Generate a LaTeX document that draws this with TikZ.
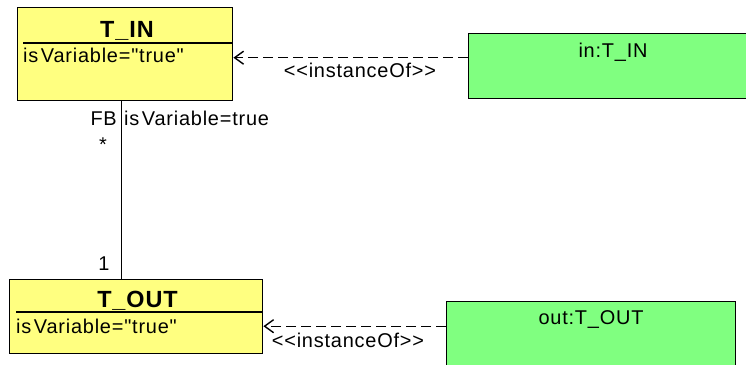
\documentclass[tikz,border=0pt]{standalone}
\usepackage{fontspec}
\setmainfont{Liberation Sans}[LetterSpace=4,Ligatures=TeXOff]
\usetikzlibrary{arrows.meta}
\definecolor{clsyellow}{RGB}{255,255,128}
\definecolor{objgreen}{RGB}{128,255,128}
\newcommand{\isgap}{is\kern2.5bp Variable}
\begin{document}
\begin{tikzpicture}[x=1bp,y=-1bp,
  box/.style={draw=black, line width=1.4bp, inner sep=0pt, anchor=north west},
  clsbox/.style={box, fill=clsyellow},
  objbox/.style={box, fill=objgreen},
  title/.style={inner sep=0pt, anchor=base, font=\fontsize{23.5}{26}\selectfont\bfseries},
  txt/.style={inner sep=0pt, font=\fontsize{20}{22}\selectfont},
  dep/.style={line width=1.4bp, dash pattern=on 10bp off 5bp, -{Straight Barb[length=9bp,width=13bp,line width=1.4bp]}},
  sep/.style={line width=1.4bp}
]
\useasboundingbox (0,0) rectangle (746,364);
\clip (0,0) rectangle (746,364);
% class boxes
\node[clsbox, minimum width=215bp, minimum height=93bp] (tin) at (17,7) {};
\node[clsbox, minimum width=253bp, minimum height=74bp] (tout) at (9,279) {};
% object boxes
\node[objbox, minimum width=300bp, minimum height=65bp] (inst1) at (468,33) {};
\node[objbox, minimum width=289bp, minimum height=80bp] (inst2) at (446,301) {};
% titles
\node[title] (tintitle) at (127,37) {T\_IN};
\node[title] (touttitle) at (137.5,307) {T\_OUT};
\draw[sep] ([xshift=6bp]tin.west |- 0,43) coordinate (s1) -- (tin.east |- s1);
\draw[sep] ([xshift=7bp]tout.west |- 0,312) coordinate (s2) -- (tout.east |- s2);
\node[txt, anchor=base west] (tinattr) at (23,62) {\isgap="true"};
\node[txt, anchor=base west] (toutattr) at (16,333) {\isgap="true"};
\node[txt, anchor=base] (inlbl) at (613,57) {in:T\_IN};
\node[txt, anchor=base] (outlbl) at (591,324) {out:T\_OUT};
% association
\coordinate (vx) at (121.5,0);
\draw[sep] (tin.south -| vx) -- (tout.north -| vx);
\node[txt, anchor=base east] (fb) at (117,125) {FB};
\node[txt, anchor=base west] (cond) at (124,125) {\isgap=true};
\node[txt] (star) at (103,145) {*};
\node[txt, anchor=base] (one) at (104,270) {1};
% instanceOf dependencies
\draw[dep] ([yshift=8.5bp]inst1.west) coordinate (p1) -- (tin.east |- p1);
\draw[dep] ([yshift=15.5bp]inst2.west) coordinate (p2) -- (tout.east |- p2);
\node[txt, anchor=base] (io1) at (360,77) {<<instanceOf>>};
\node[txt, anchor=base] (io2) at (348,347) {<<instanceOf>>};
\end{tikzpicture}
\end{document}
